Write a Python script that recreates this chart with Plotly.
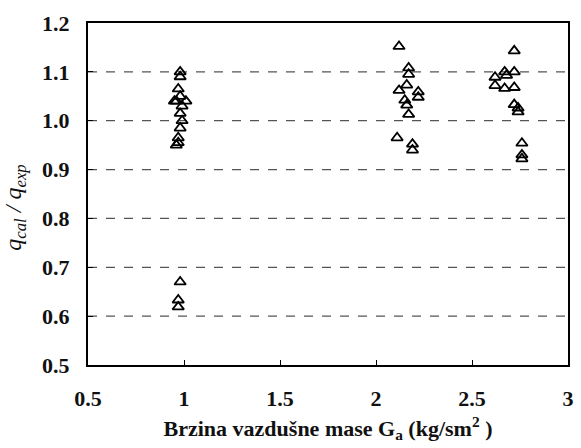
import plotly.graph_objects as go

# Cluster near G = 1
x1 = [0.98, 0.98, 0.97, 0.98, 0.96, 0.95, 1.01, 0.99, 0.98, 0.99, 0.98, 0.97, 0.97, 0.96, 0.98, 0.97, 0.97]
y1 = [1.10, 1.09, 1.065, 1.05, 1.04, 1.04, 1.04, 1.03, 1.015, 1.0, 0.985, 0.965, 0.955, 0.95, 0.67, 0.633, 0.619]

# Cluster near G = 2.2
x2 = [2.12, 2.17, 2.17, 2.16, 2.12, 2.22, 2.22, 2.15, 2.16, 2.17, 2.11, 2.19, 2.19]
y2 = [1.152, 1.108, 1.095, 1.073, 1.062, 1.059, 1.048, 1.042, 1.032, 1.013, 0.965, 0.952, 0.94]

# Cluster near G = 2.7
x3 = [2.72, 2.62, 2.67, 2.72, 2.68, 2.62, 2.67, 2.72, 2.72, 2.74, 2.74, 2.76, 2.76, 2.76]
y3 = [1.143, 1.089, 1.100, 1.100, 1.093, 1.072, 1.066, 1.068, 1.033, 1.026, 1.018, 0.954, 0.93, 0.922]

x_ticks = [0.5, 1, 1.5, 2, 2.5, 3]
y_ticks = [0.5, 0.6, 0.7, 0.8, 0.9, 1.0, 1.1, 1.2]
grid_levels = [0.6, 0.7, 0.8, 0.9, 1.0, 1.1]

xs = x1 + x2 + x3
ys = y1 + y2 + y3

fig = go.Figure()
fig.add_trace(go.Scatter(
    x=xs, y=ys, mode="markers",
    marker=dict(symbol="triangle-up-open", size=10, color="black",
                line=dict(color="black", width=1.8)),
    showlegend=False,
))

font = dict(family="Liberation Serif, Times New Roman, serif", color="#111", size=22)

fig.update_layout(
    width=581, height=448,
    margin=dict(l=88, r=7, t=23, b=83),
    paper_bgcolor="white", plot_bgcolor="white",
    font=font,
    xaxis=dict(
        range=[0.5, 3], tickvals=x_ticks,
        ticktext=[f"<b>{v:g}</b>" for v in x_ticks],
        tickfont=dict(size=22),
        ticks="inside", ticklen=5, tickcolor="black",
        showline=True, linecolor="black", linewidth=2, mirror=True,
        showgrid=False, zeroline=False,
        ticklabelstandoff=13,
        ticklabeloverflow="allow",
        title=dict(text="<b>Brzina vazdušne mase G<sub>a</sub> (kg/sm<sup>2</sup> )</b>",
                   font=dict(size=22), standoff=10),
    ),
    yaxis=dict(
        range=[0.5, 1.2], tickvals=y_ticks,
        ticktext=[f"<b>{v:.1f}</b>" for v in y_ticks],
        tickfont=dict(size=22),
        ticks="inside", ticklen=5, tickcolor="black",
        showline=True, linecolor="black", linewidth=2, mirror=True,
        showgrid=False, zeroline=False,
        ticklabelstandoff=12,
    ),
    annotations=[dict(
        text="<i>q<sub>cal</sub> / q<sub>exp</sub></i>",
        textangle=-90, xref="paper", yref="paper",
        x=-0.152, y=0.46, xanchor="center", yanchor="middle",
        showarrow=False, font=dict(size=24),
    )],
)

for v in grid_levels:
    fig.add_hline(y=v, line=dict(color="#555", width=1.3, dash="dash"), layer="below")

fig.write_html("out.html", config={"displayModeBar": False},
               post_script="document.body.style.margin='0';")
